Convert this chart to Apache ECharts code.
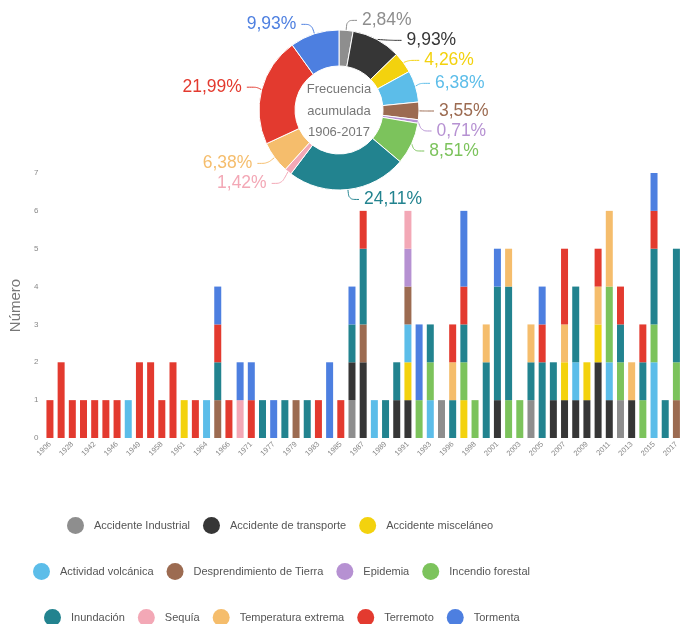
<!DOCTYPE html>
<html>
<head>
<meta charset="utf-8">
<script src="https://cdn.jsdelivr.net/npm/echarts@6/dist/echarts.min.js"></script>
<style>html,body{margin:0;padding:0;background:#fff}#c{width:682px;height:624px}</style>
</head>
<body>
<div id="c"></div>
<script>
var years = [1906,1922,1928,1939,1942,1943,1946,1948,1949,1953,
  1958,1960,1961,1962,1964,1965,1966,1968,1971,1974,
  1977,1978,1979,1982,1983,1984,1985,1986,1987,1988,
  1989,1990,1991,1992,1993,1995,1996,1997,1998,2000,
  2001,2002,2003,2004,2005,2006,2007,2008,2009,2010,
  2011,2012,2013,2014,2015,2016,2017];

var categories = ["Accidente Industrial","Accidente de transporte","Accidente misceláneo",
  "Actividad volcánica","Desprendimiento de Tierra","Epidemia","Incendio forestal",
  "Inundación","Sequía","Temperatura extrema","Terremoto","Tormenta"];

var accidenteIndustrial = [0,0,0,0,0,0,0,0,0,0, 0,0,0,0,0,0,0,0,0,0, 0,0,0,0,0,0,0,1,0,0, 0,0,0,0,0,1,0,0,0,0, 0,0,0,1,0,0,0,0,0,0, 0,1,0,0,0,0,0];
var accidenteTransporte = [0,0,0,0,0,0,0,0,0,0, 0,0,0,0,0,0,0,0,0,0, 0,0,0,0,0,0,0,1,2,0, 0,1,1,0,0,0,0,0,0,0, 1,0,0,0,0,1,1,1,1,2, 1,0,1,0,0,0,0];
var accidenteMiscelaneo = [0,0,0,0,0,0,0,0,0,0, 0,0,1,0,0,0,0,0,0,0, 0,0,0,0,0,0,0,0,0,0, 0,0,1,0,0,0,0,1,0,0, 0,0,0,0,0,0,1,0,1,1, 0,0,0,0,0,0,0];
var actividadVolcanica = [0,0,0,0,0,0,0,1,0,0, 0,0,0,0,1,0,0,0,0,0, 0,0,0,0,0,0,0,0,0,1, 0,0,1,0,1,0,0,0,0,0, 0,0,0,0,0,0,0,1,0,0, 1,0,0,0,2,0,0];
var desprendimiento = [0,0,0,0,0,0,0,0,0,0, 0,0,0,0,0,1,0,0,0,0, 0,0,1,0,0,0,0,0,1,0, 0,0,1,0,0,0,0,0,0,0, 0,0,0,0,0,0,0,0,0,0, 0,0,0,0,0,0,1];
var epidemia = [0,0,0,0,0,0,0,0,0,0, 0,0,0,0,0,0,0,0,0,0, 0,0,0,0,0,0,0,0,0,0, 0,0,1,0,0,0,0,0,0,0, 0,0,0,0,0,0,0,0,0,0, 0,0,0,0,0,0,0];
var incendioForestal = [0,0,0,0,0,0,0,0,0,0, 0,0,0,0,0,0,0,0,0,0, 0,0,0,0,0,0,0,0,0,0, 0,0,0,1,1,0,0,1,1,0, 0,1,1,0,0,0,0,0,0,0, 2,1,0,1,1,0,1];
var inundacion = [0,0,0,0,0,0,0,0,0,0, 0,0,0,0,0,1,0,0,0,1, 0,1,0,1,0,0,0,1,2,0, 1,1,0,0,1,0,1,1,0,2, 3,3,0,1,2,1,0,2,0,0, 0,1,0,1,2,1,3];
var sequia = [0,0,0,0,0,0,0,0,0,0, 0,0,0,0,0,0,0,1,0,0, 0,0,0,0,0,0,0,0,0,0, 0,0,1,0,0,0,0,0,0,0, 0,0,0,0,0,0,0,0,0,0, 0,0,0,0,0,0,0];
var temperaturaExtrema = [0,0,0,0,0,0,0,0,0,0, 0,0,0,0,0,0,0,0,0,0, 0,0,0,0,0,0,0,0,0,0, 0,0,0,0,0,0,1,0,0,1, 0,1,0,1,0,0,1,0,0,1, 2,0,1,0,0,0,0];
var terremoto = [1,2,1,1,1,1,1,0,2,2, 1,2,0,1,0,1,1,0,1,0, 0,0,0,0,1,0,1,0,1,0, 0,0,0,0,0,0,1,1,0,0, 0,0,0,0,1,0,2,0,0,1, 0,1,0,1,1,0,0];
var tormenta = [0,0,0,0,0,0,0,0,0,0, 0,0,0,0,0,1,0,1,1,0, 1,0,0,0,0,2,0,1,0,0, 0,0,0,2,0,0,0,2,0,0, 1,0,0,0,1,0,0,0,0,0, 0,0,0,0,1,0,0];

var colors = ["#8e8e8e","#363636","#f3d20e","#5cbde9","#9c6b51","#b691d2","#7cc35c",
  "#22838f","#f3a8b6","#f5bd6c","#e33a2f","#4d7fe0"];

var seriesData = [accidenteIndustrial, accidenteTransporte, accidenteMiscelaneo, actividadVolcanica,
  desprendimiento, epidemia, incendioForestal, inundacion, sequia, temperaturaExtrema, terremoto, tormenta];

var chart = echarts.init(document.getElementById('c'));
var series = categories.map(function(name, i){
  return {
    name: name, type: 'bar', stack: 'total', barWidth: 7,
    itemStyle: {color: colors[i]},
    data: seriesData[i], z: 2
  };
});

var totals = seriesData.map(function(arr){ return arr.reduce(function(a,b){return a+b;},0); });
var grand = totals.reduce(function(a,b){return a+b;},0);

var pieData = categories.map(function(name, i){
  return {name: name, value: totals[i], itemStyle:{color: colors[i]}, label:{color: colors[i]}, labelLine:{lineStyle:{color: colors[i]}}};
});

series.push({
  type: 'pie', center: [339, 110], radius: [44, 80], startAngle: 90, clockwise: true,
  z: 5, legendHoverLink: false,
  itemStyle: {borderColor: '#fff', borderWidth: 1},
  label: {
    fontSize: 17.5, fontFamily: 'Liberation Sans',
    formatter: function(p){ return (p.value / grand * 100).toFixed(2).replace('.', ',') + '%'; }
  },
  labelLine: {length: 10, length2: 10, smooth: true, lineStyle:{width:1}},
  data: pieData
});

function legendRow(names, left, top){
  return {
    data: names, left: left, top: top, icon: 'circle', itemWidth: 17, itemHeight: 17, itemGap: 13,
    textStyle: {fontSize: 11, color: '#555', fontFamily: 'Liberation Sans', padding: [0,0,0,5]}
  };
}

chart.setOption({
  animation: false,
  color: colors,
  grid: {left: 42, top: 173, height: 265, right: -1},
  legend: [
    legendRow(categories.slice(0,3), 62, 512),
    legendRow(categories.slice(3,7), 28, 558),
    legendRow(categories.slice(7,12), 39, 604)
  ],
  graphic: [{
    type: 'text', position: [339, 79], z: 10,
    style: {text: 'Frecuencia\nacumulada\n1906-2017', align: 'center', fill: '#777', fontSize: 13, lineHeight: 21.5, fontFamily: 'Liberation Sans'}
  }],
  xAxis: {
    type: 'category', data: years,
    axisLine: {show: false}, axisTick: {show: false},
    axisLabel: {interval: 1, rotate: 45, fontSize: 7.5, color: '#888', margin: 5}
  },
  yAxis: {
    type: 'value', min: 0, max: 7, interval: 1,
    name: 'Número', nameLocation: 'middle', nameGap: 19,
    nameTextStyle: {fontSize: 15, color: '#777', fontFamily: 'Liberation Sans'},
    axisLine: {show: false}, axisTick: {show: false}, splitLine: {show: false},
    axisLabel: {fontSize: 8, color: '#888', margin: 6}
  },
  series: series
});
</script>
</body>
</html>
